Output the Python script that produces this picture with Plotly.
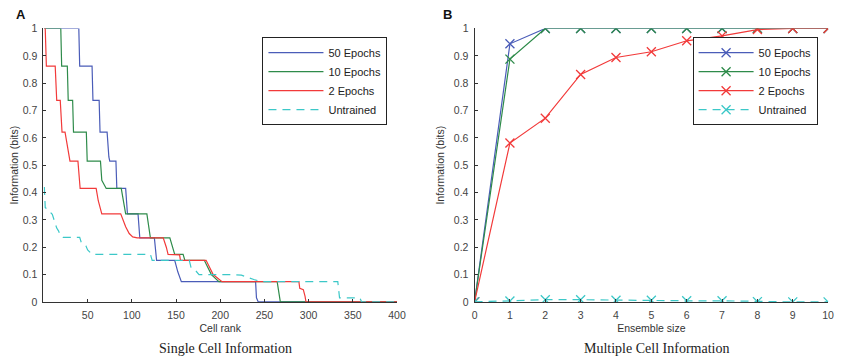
import plotly.graph_objects as go

# ---------------- data ----------------
series_names = ["50 Epochs", "10 Epochs", "2 Epochs", "Untrained"]
colors = ["#4a5cb8", "#2e8b4a", "#f23a3a", "#3cc8c8"]

# Panel A: single cell information, sorted by cell rank
rank_50 = [1, 40, 41, 55, 56, 63, 64, 72, 74, 75, 82, 83, 93, 95, 107, 109, 125.5, 128, 148.5, 152, 156, 240, 241, 243, 400]
info_50 = [1, 1, 0.862, 0.862, 0.737, 0.737, 0.621, 0.621, 0.53, 0.515, 0.515, 0.415, 0.415, 0.322, 0.322, 0.234, 0.234, 0.152, 0.152, 0.11, 0.074, 0.074, 0.015, 0, 0]

rank_10 = [1, 19.6, 20.6, 27, 28, 33, 34, 48.5, 49.5, 64.5, 66, 69, 71, 88, 93, 117, 121, 143, 148.5, 158, 160, 182, 190, 198.5, 264.4, 268, 400]
info_10 = [1, 1, 0.862, 0.862, 0.737, 0.737, 0.621, 0.621, 0.515, 0.515, 0.445, 0.43, 0.415, 0.415, 0.322, 0.322, 0.234, 0.234, 0.174, 0.174, 0.152, 0.152, 0.1, 0.074, 0.074, 0, 0]

rank_2 = [1, 2, 3.3, 13.3, 15, 19, 21, 24.4, 30, 39, 41.5, 59.6, 62, 64, 66, 87.4, 93, 97, 101, 106, 135.5, 139, 141, 154, 155, 184, 192, 202, 289, 290, 294, 296, 297, 400]
info_2 = [1, 1, 0.862, 0.862, 0.737, 0.737, 0.621, 0.621, 0.515, 0.515, 0.415, 0.415, 0.37, 0.34, 0.322, 0.322, 0.275, 0.25, 0.238, 0.234, 0.234, 0.2, 0.174, 0.172, 0.152, 0.152, 0.1, 0.074, 0.074, 0.05, 0.045, 0.02, 0, 0]

rank_un = [1, 2, 4, 7, 10, 13, 15, 17, 19, 22, 41, 43, 48, 50, 55, 121, 123, 165, 167, 172, 176, 213, 224, 238, 247, 333, 335, 349, 358, 360, 400]
info_un = [0.42, 0.345, 0.34, 0.33, 0.32, 0.29, 0.27, 0.26, 0.245, 0.236, 0.236, 0.215, 0.205, 0.19, 0.174, 0.174, 0.152, 0.152, 0.125, 0.115, 0.1, 0.1, 0.098, 0.082, 0.074, 0.074, 0.015, 0.015, 0.015, 0, 0]

# Panel B: multiple cell information vs ensemble size
ensemble = [0, 1, 2, 3, 4, 5, 6, 7, 8, 9, 10]
ens_50 = [0, 0.944, 1, 1, 1, 1, 1, 1, 1, 1, 1]
ens_10 = [0, 0.888, 1, 1, 1, 1, 1, 1, 1, 1, 1]
ens_2 = [0, 0.581, 0.672, 0.832, 0.894, 0.915, 0.955, 0.973, 0.996, 1, 1]
ens_un = [0, 0.003, 0.008, 0.008, 0.006, 0.006, 0.004, 0.004, 0.001, 0, 0]

x_ticks_a = [50, 100, 150, 200, 250, 300, 350, 400]
y_ticks = [0, 0.1, 0.2, 0.3, 0.4, 0.5, 0.6, 0.7, 0.8, 0.9, 1]
y_tick_text = ["0", "0.1", "0.2", "0.3", "0.4", "0.5", "0.6", "0.7", "0.8", "0.9", "1"]

# ---------------- figure ----------------
# the page body has an 8px margin, so the figure is drawn 8px in from the window edge
OFF = 8
W, H = 843 - OFF, 362 - OFF
fig = go.Figure()

sans = "Liberation Sans, Arial, sans-serif"
serif = "Liberation Serif, DejaVu Serif, serif"

left_data = [(rank_50, info_50), (rank_10, info_10), (rank_2, info_2), (rank_un, info_un)]
for i, (xs, ys) in enumerate(left_data):
    fig.add_trace(go.Scatter(
        x=xs, y=ys, mode="lines", name=series_names[i],
        line=dict(color=colors[i], width=1.2, dash="8px,6px" if i == 3 else "solid"),
        xaxis="x", yaxis="y", legend="legend",
    ))

right_data = [ens_50, ens_10, ens_2, ens_un]
for i, ys in enumerate(right_data):
    fig.add_trace(go.Scatter(
        x=ensemble, y=ys, mode="lines+markers", name=series_names[i],
        line=dict(color=colors[i], width=1.2, dash="8px,6px" if i == 3 else "solid"),
        marker=dict(symbol="x-thin", size=9, color=colors[i],
                    line=dict(width=1.3, color=colors[i])),
        xaxis="x2", yaxis="y2", legend="legend2",
    ))

def px_x(p):
    return (p - OFF) / W

def px_y(p):
    return 1 - (p - OFF) / H

ydom = [px_y(306), px_y(23)]
axis_common = dict(
    showline=True, linecolor="#333", linewidth=1, mirror=False,
    ticks="inside", ticklen=3, tickcolor="#333", showgrid=False, zeroline=False,
    tickfont=dict(family=sans, size=10.5, color="#444"),
)
title_font = dict(family=sans, size=10.5, color="#333")

fig.update_layout(
    width=W, height=H,
    margin=dict(l=0, r=0, t=0, b=0),
    paper_bgcolor="white", plot_bgcolor="white",
    showlegend=True,
    xaxis=dict(domain=[px_x(38), px_x(398)], range=[0, 400], tickvals=x_ticks_a,
               anchor="y", ticklabelstandoff=4,
               title=dict(text="Cell rank", font=title_font, standoff=4),
               **axis_common),
    yaxis=dict(domain=ydom, range=[0, 1], tickvals=y_ticks, ticktext=y_tick_text,
               anchor="x", ticklabelstandoff=3,
               title=dict(text="Information (bits)", font=title_font, standoff=7),
               **axis_common),
    xaxis2=dict(domain=[px_x(477), px_x(837)], range=[0, 10], tickvals=ensemble,
                anchor="y2", ticklabelstandoff=4,
                title=dict(text="Ensemble size", font=title_font, standoff=4),
                **axis_common),
    yaxis2=dict(domain=ydom, range=[0, 1], tickvals=y_ticks, ticktext=y_tick_text,
                anchor="x2", ticklabelstandoff=3,
                title=dict(text="Information (bits)", font=title_font, standoff=7),
                **axis_common),
    legend=dict(x=px_x(261), y=px_y(32), xanchor="left", yanchor="top",
                bgcolor="white", bordercolor="#222", borderwidth=1,
                font=dict(family=sans, size=11, color="#222"), itemwidth=55,
                tracegroupgap=0),
    legend2=dict(x=px_x(699), y=px_y(32), xanchor="left", yanchor="top",
                 bgcolor="white", bordercolor="#222", borderwidth=1,
                 font=dict(family=sans, size=11, color="#222"), itemwidth=55,
                 tracegroupgap=0),
    annotations=[
        dict(text="<b>A</b>", x=px_x(8), y=px_y(8), xref="paper", yref="paper",
             xanchor="left", yanchor="middle", showarrow=False,
             font=dict(family=sans, size=13, color="#111")),
        dict(text="<b>B</b>", x=px_x(443), y=px_y(8), xref="paper", yref="paper",
             xanchor="left", yanchor="middle", showarrow=False,
             font=dict(family=sans, size=13, color="#111")),
        dict(text="Single Cell Information", x=px_x(223), y=px_y(354), xref="paper", yref="paper",
             xanchor="center", yanchor="middle", showarrow=False,
             font=dict(family=serif, size=14, color="#222")),
        dict(text="Multiple Cell Information", x=px_x(662), y=px_y(354), xref="paper", yref="paper",
             xanchor="center", yanchor="middle", showarrow=False,
             font=dict(family=serif, size=14, color="#222")),
    ],
)

fig.write_html("out.html")
